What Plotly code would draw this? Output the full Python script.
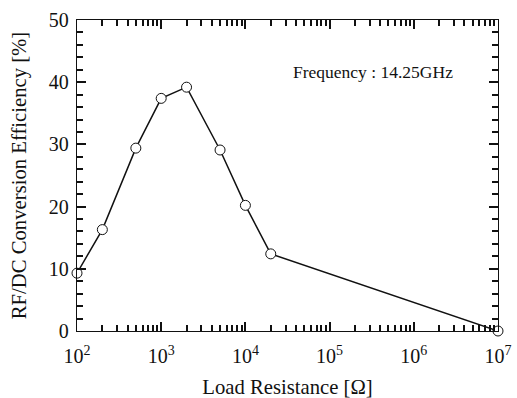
import plotly.graph_objects as go

resistance = [100, 200, 500, 1000, 2000, 5000, 10000, 20000, 1e7]
efficiency = [9.3, 16.3, 29.4, 37.4, 39.2, 29.1, 20.2, 12.4, 0.0]
x_range_exp = [2, 7]
y_range = [0, 50]
x_major_ticks = [1e2, 1e3, 1e4, 1e5, 1e6, 1e7]
x_major_labels = ["10<sup>2</sup>", "10<sup>3</sup>", "10<sup>4</sup>",
                  "10<sup>5</sup>", "10<sup>6</sup>", "10<sup>7</sup>"]
y_major_ticks = [0, 10, 20, 30, 40, 50]

x_minor_ticks = [m * 10 ** e for e in range(2, 7) for m in range(2, 10)]
y_minor_ticks = [v for v in range(0, 51, 2) if v % 10 != 0]

font = "Liberation Serif"
black = "#111111"

fig = go.Figure()
# invisible helper trace so the minor-tick overlay axes are drawn
fig.add_trace(go.Scatter(x=resistance[:1], y=efficiency[:1], mode="markers",
                         marker=dict(opacity=0), xaxis="x2", yaxis="y2",
                         showlegend=False, hoverinfo="skip"))
fig.add_trace(go.Scatter(
    x=resistance, y=efficiency, mode="lines+markers",
    line=dict(color=black, width=1.5),
    marker=dict(symbol="circle", size=10, color="white", line=dict(color=black, width=1)),
    cliponaxis=False, showlegend=False, xaxis="x", yaxis="y",
))

fig.add_annotation(x=4.54, y=41.6, xref="x", yref="y", text="Frequency : 14.25GHz",
                   showarrow=False, xanchor="left", yanchor="middle",
                   font=dict(family=font, size=17.5, color=black))

axis_common = dict(showgrid=False, zeroline=False, automargin=False,
                   showline=True, linecolor=black, linewidth=1.3, mirror="ticks",
                   tickwidth=2, ticks="inside")

fig.update_layout(
    width=517, height=398, margin=dict(l=77, r=19, t=19.5, b=67),
    paper_bgcolor="white", plot_bgcolor="white",
    xaxis=dict(type="log", range=x_range_exp, tickmode="array",
               tickvals=x_major_ticks, ticktext=x_major_labels, ticklen=9,
               tickcolor=black, ticklabelstandoff=7,
               tickfont=dict(family=font, size=20, color=black),
               title=dict(text="Load Resistance [Ω]",
                          font=dict(family=font, size=20.7, color=black), standoff=14),
               **axis_common),
    yaxis=dict(range=y_range, tickmode="array", tickvals=y_major_ticks, ticklen=9,
               tickcolor=black, ticklabelstandoff=3,
               tickfont=dict(family=font, size=20, color=black),
               title=dict(text="RF/DC Conversion Efficiency [%]",
                          font=dict(family=font, size=20.7, color=black), standoff=16),
               **axis_common),
    xaxis2=dict(type="log", range=x_range_exp, overlaying="x", anchor="y2",
                tickmode="array", tickvals=x_minor_ticks, ticklen=6, tickcolor=black,
                showticklabels=False, **axis_common),
    yaxis2=dict(range=y_range, overlaying="y", anchor="x2",
                tickmode="array", tickvals=y_minor_ticks, ticklen=6, tickcolor=black,
                showticklabels=False, **axis_common),
)

fig.write_html("out.html")
